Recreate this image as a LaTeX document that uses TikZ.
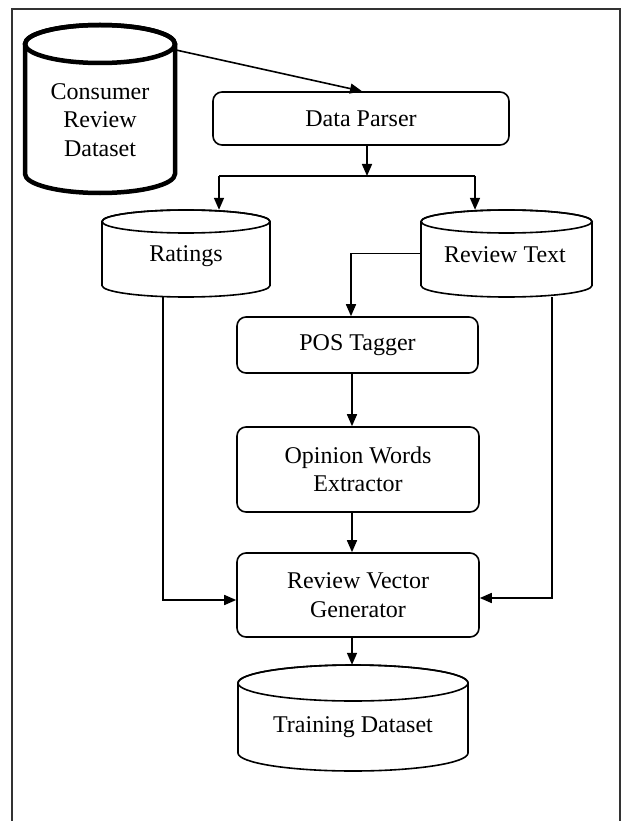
\documentclass[tikz,border=0pt]{standalone}
\usepackage{fontspec}
\setmainfont{Liberation Serif}
\usetikzlibrary{arrows.meta,calc}
\tikzset{
  conn/.style={line width=1.6pt, draw=black},
  arr/.style={conn, -{Triangle[length=12pt,width=10pt]}},
  txt/.style={inner sep=0pt, align=center, font=\fontsize{24}{28.5}\selectfont},
  procbox/.style={draw, line width=1.6pt, rounded corners=9pt, inner sep=0pt, align=center,
    font=\fontsize{24}{28.5}\selectfont},
  cylarea/.style={inner sep=0pt, draw=none},
  thincyl/.style={line width=1.6pt},
  thickcyl/.style={line width=4.5pt},
}
\newcommand\mycyl[6]{%
  \pgfmathsetmacro\cxA{(#2+#3)/2}%
  \pgfmathsetmacro\rxA{(#3-#2)/2}%
  \pgfmathsetmacro\yA{-(#4+#6)}%
  \pgfmathsetmacro\yB{-(#5-#6)}%
  \filldraw[fill=white,#1] (#2,\yA) -- (#2,\yB)
    arc[start angle=180,end angle=360,x radius=\rxA,y radius=#6] -- (#3,\yA)
    arc[start angle=0,end angle=180,x radius=\rxA,y radius=#6] -- cycle;
  \draw[#1] (\cxA,\yA) ellipse[x radius=\rxA, y radius=#6];
}
\begin{document}
\begin{tikzpicture}[x=1pt,y=1pt]
\useasboundingbox (0,0) rectangle (623,-821);
\clip (0,0) rectangle (623,-821);
\fill[white] (0,0) rectangle (623,-821);
% frame
\draw[line width=2pt, draw=black!80] (12,-9) rectangle (620,-850);

% cylinders
\mycyl{thickcyl}{25}{175}{25}{193}{19}
\node[cylarea, minimum width=150pt, minimum height=168pt] (consumer) at (100,-109) {};
\node[txt] (consumertxt) at (100,-120) {Consumer\\Review\\Dataset};

\mycyl{thincyl}{102}{270}{210}{297}{11.5}
\node[cylarea, minimum width=168pt, minimum height=87pt] (ratings) at (186,-253.5) {};
\node[txt] (ratingstxt) at (186,-256) {Ratings};

\mycyl{thincyl}{421}{592}{210}{297}{11.5}
\node[cylarea, minimum width=171pt, minimum height=87pt] (rt) at (506.5,-253.5) {};
\node[txt] (rttxt) at (505,-255) {Review Text};

\mycyl{thincyl}{238}{468}{665}{771}{18}
\node[cylarea, minimum width=230pt, minimum height=106pt] (td) at (353,-718) {};
\node[txt] (tdtxt) at (353,-727) {Training Dataset};

% process boxes
\node[procbox, minimum width=296pt, minimum height=53pt] (dp) at (361,-118.5) {Data Parser};
\node[procbox, minimum width=241pt, minimum height=56pt] (pos) at (357.5,-345) {POS Tagger};
\node[procbox, minimum width=242pt, minimum height=85pt] (owe) at (358,-469.5) {Opinion Words\\Extractor};
\node[procbox, minimum width=242pt, minimum height=84pt] (rvg) at (358,-595) {Review Vector\\Generator};

% connectors
\coordinate (cA) at (176,-50);
\draw[arr] (cA) -- ([xshift=1pt]dp.north);
\coordinate (split) at (367,-176);
\coordinate (sl) at (219,-176);
\coordinate (sr) at (475,-176);
\draw[arr] ([xshift=6pt]dp.south) -- (split);
\draw[conn] (sl) -- (sr);
\draw[arr] (sl) -- (sl |- ratings.north);
\draw[arr] (sr) -- (sr |- rt.north);
\draw[arr] (rt.west) -| ([xshift=-6.5pt]pos.north);
\draw[arr] ([xshift=-5.5pt]pos.south) -- ([xshift=-6pt]owe.north);
\draw[arr] ([xshift=-6pt]owe.south) -- ([xshift=-6pt]rvg.north);
\draw[arr] ([xshift=-23pt]ratings.south) |- ([yshift=-5pt]rvg.west);
\draw[arr] ([xshift=45.5pt]rt.south) |- ([yshift=-3pt]rvg.east);
\draw[arr] ([xshift=-6pt]rvg.south) -- ([xshift=-1pt]td.north);
\end{tikzpicture}
\end{document}
